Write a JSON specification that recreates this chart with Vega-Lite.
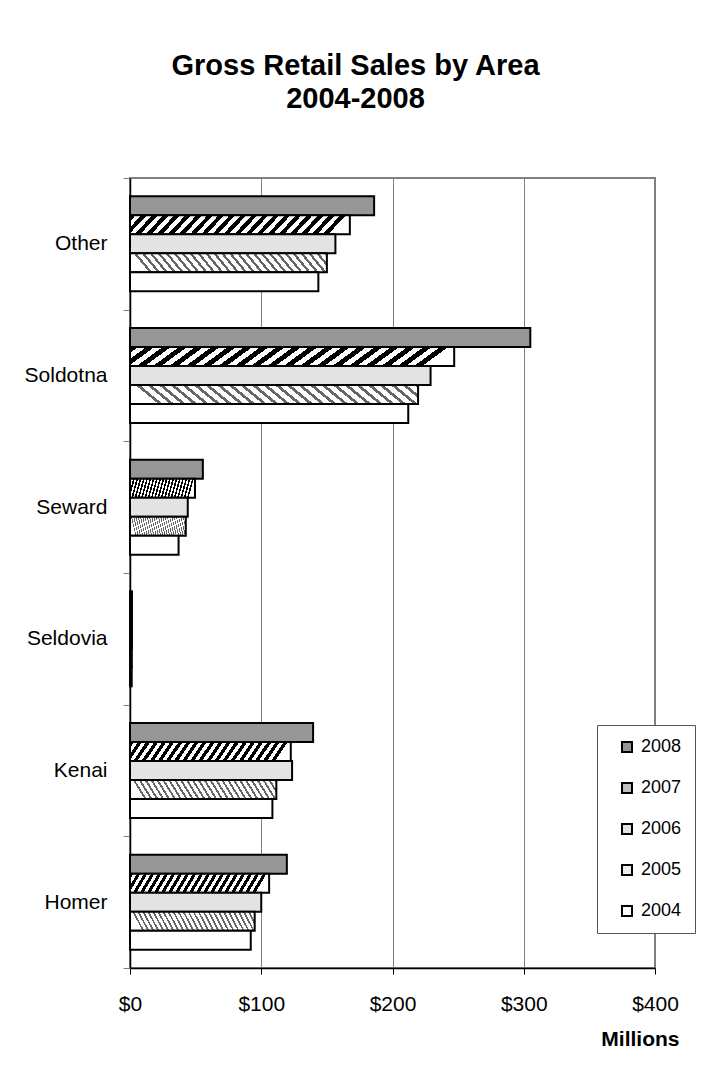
{
 "$schema": "https://vega.github.io/schema/vega-lite/v6.json",
 "autosize": {"type": "none"},
 "width": 525,
 "height": 790,
 "padding": {"left": 130, "top": 178, "right": 73, "bottom": 119},
 "background": "white",
 "config": {"font": "Liberation Sans", "view": {"stroke": "#808080", "strokeWidth": 2}},
 "title": {"text": ["Gross Retail Sales by Area", "2004-2008"], "fontSize": 29, "fontWeight": "bold", "anchor": "middle", "dx": -37, "offset": 53, "lineHeight": 33, "color": "black"},
 "data": {"values": [
  {"area": "Other", "year": "2008", "sales": 186},
  {"area": "Other", "year": "2007", "sales": 167.5},
  {"area": "Other", "year": "2006", "sales": 156.5},
  {"area": "Other", "year": "2005", "sales": 150},
  {"area": "Other", "year": "2004", "sales": 143.5},
  {"area": "Soldotna", "year": "2008", "sales": 305},
  {"area": "Soldotna", "year": "2007", "sales": 247},
  {"area": "Soldotna", "year": "2006", "sales": 229},
  {"area": "Soldotna", "year": "2005", "sales": 219.5},
  {"area": "Soldotna", "year": "2004", "sales": 212},
  {"area": "Seward", "year": "2008", "sales": 55.5},
  {"area": "Seward", "year": "2007", "sales": 49.5},
  {"area": "Seward", "year": "2006", "sales": 44},
  {"area": "Seward", "year": "2005", "sales": 42.5},
  {"area": "Seward", "year": "2004", "sales": 37},
  {"area": "Seldovia", "year": "2008", "sales": 1.5},
  {"area": "Seldovia", "year": "2007", "sales": 1.5},
  {"area": "Seldovia", "year": "2006", "sales": 1.5},
  {"area": "Seldovia", "year": "2005", "sales": 1.4},
  {"area": "Seldovia", "year": "2004", "sales": 1.3},
  {"area": "Kenai", "year": "2008", "sales": 139.5},
  {"area": "Kenai", "year": "2007", "sales": 122.5},
  {"area": "Kenai", "year": "2006", "sales": 123.5},
  {"area": "Kenai", "year": "2005", "sales": 111.5},
  {"area": "Kenai", "year": "2004", "sales": 108.5},
  {"area": "Homer", "year": "2008", "sales": 119.5},
  {"area": "Homer", "year": "2007", "sales": 106},
  {"area": "Homer", "year": "2006", "sales": 100},
  {"area": "Homer", "year": "2005", "sales": 95},
  {"area": "Homer", "year": "2004", "sales": 92}
 ]},
 "mark": {"type": "bar", "stroke": "black", "strokeWidth": 2},
 "encoding": {
  "y": {"field": "area", "type": "nominal", "sort": ["Other", "Soldotna", "Seward", "Seldovia", "Kenai", "Homer"],
   "scale": {"paddingInner": 0, "paddingOuter": 0},
   "axis": {"title": null, "domainColor": "black", "domainWidth": 1.5, "tickColor": "#808080", "tickSize": 7, "tickBand": "extent", "labelPadding": 16, "labelFontSize": 21, "labelColor": "black", "grid": false}},
  "yOffset": {"field": "year", "type": "nominal", "sort": ["2008", "2007", "2006", "2005", "2004"], "scale": {"paddingInner": 0, "paddingOuter": 0.965}},
  "x": {"field": "sales", "type": "quantitative", "scale": {"domain": [0, 400], "nice": false},
   "axis": {"values": [0, 100, 200, 300, 400], "format": "$,.0f", "labelFlush": false, "grid": true, "gridColor": "#808080", "gridWidth": 1, "gridOpacity": 1, "domainColor": "black", "domainWidth": 1.5, "tickColor": "black", "tickSize": 6, "labelFontSize": 21, "labelPadding": 19, "labelColor": "black",
    "title": "Millions", "titleFontSize": 21, "titleFontWeight": "bold", "titleColor": "black", "titleX": 549, "titleY": 71, "titleAlign": "right", "titleBaseline": "middle"}},
  "fill": {"field": "year", "type": "nominal",
   "scale": {"domain": ["2008", "2007", "2006", "2005", "2004"], "range": ["#969696", "#bfbfbf", "#e3e3e3", "#eeeeee", "#ffffff"]},
   "legend": {"title": null, "orient": "none", "legendX": 467, "legendY": 547, "fillColor": "white", "strokeColor": "#555555", "padding": 13, "rowPadding": 23, "symbolType": "square", "symbolSize": 100, "symbolStrokeColor": "black", "symbolStrokeWidth": 2, "symbolOffset": 8, "labelFontSize": 18, "labelOffset": 5, "labelColor": "black"},
   "condition": [
    {"test": "datum.year === '2007'", "value": {"gradient": "linear", "x1": 0, "y1": 0, "x2": 1, "y2": 0.08, "stops": [
     {"offset": 0, "color": "black"}, {"offset": 0.025, "color": "black"}, {"offset": 0.025, "color": "white"}, {"offset": 0.05, "color": "white"},
     {"offset": 0.05, "color": "black"}, {"offset": 0.075, "color": "black"}, {"offset": 0.075, "color": "white"}, {"offset": 0.1, "color": "white"},
     {"offset": 0.1, "color": "black"}, {"offset": 0.125, "color": "black"}, {"offset": 0.125, "color": "white"}, {"offset": 0.15, "color": "white"},
     {"offset": 0.15, "color": "black"}, {"offset": 0.175, "color": "black"}, {"offset": 0.175, "color": "white"}, {"offset": 0.2, "color": "white"},
     {"offset": 0.2, "color": "black"}, {"offset": 0.225, "color": "black"}, {"offset": 0.225, "color": "white"}, {"offset": 0.25, "color": "white"},
     {"offset": 0.25, "color": "black"}, {"offset": 0.275, "color": "black"}, {"offset": 0.275, "color": "white"}, {"offset": 0.3, "color": "white"},
     {"offset": 0.3, "color": "black"}, {"offset": 0.325, "color": "black"}, {"offset": 0.325, "color": "white"}, {"offset": 0.35, "color": "white"},
     {"offset": 0.35, "color": "black"}, {"offset": 0.375, "color": "black"}, {"offset": 0.375, "color": "white"}, {"offset": 0.4, "color": "white"},
     {"offset": 0.4, "color": "black"}, {"offset": 0.425, "color": "black"}, {"offset": 0.425, "color": "white"}, {"offset": 0.45, "color": "white"},
     {"offset": 0.45, "color": "black"}, {"offset": 0.475, "color": "black"}, {"offset": 0.475, "color": "white"}, {"offset": 0.5, "color": "white"},
     {"offset": 0.5, "color": "black"}, {"offset": 0.525, "color": "black"}, {"offset": 0.525, "color": "white"}, {"offset": 0.55, "color": "white"},
     {"offset": 0.55, "color": "black"}, {"offset": 0.575, "color": "black"}, {"offset": 0.575, "color": "white"}, {"offset": 0.6, "color": "white"},
     {"offset": 0.6, "color": "black"}, {"offset": 0.625, "color": "black"}, {"offset": 0.625, "color": "white"}, {"offset": 0.65, "color": "white"},
     {"offset": 0.65, "color": "black"}, {"offset": 0.675, "color": "black"}, {"offset": 0.675, "color": "white"}, {"offset": 0.7, "color": "white"},
     {"offset": 0.7, "color": "black"}, {"offset": 0.725, "color": "black"}, {"offset": 0.725, "color": "white"}, {"offset": 0.75, "color": "white"},
     {"offset": 0.75, "color": "black"}, {"offset": 0.775, "color": "black"}, {"offset": 0.775, "color": "white"}, {"offset": 0.8, "color": "white"},
     {"offset": 0.8, "color": "black"}, {"offset": 0.825, "color": "black"}, {"offset": 0.825, "color": "white"}, {"offset": 0.85, "color": "white"},
     {"offset": 0.85, "color": "black"}, {"offset": 0.875, "color": "black"}, {"offset": 0.875, "color": "white"}, {"offset": 0.9, "color": "white"},
     {"offset": 0.9, "color": "black"}, {"offset": 0.925, "color": "black"}, {"offset": 0.925, "color": "white"}, {"offset": 0.95, "color": "white"},
     {"offset": 0.95, "color": "black"}, {"offset": 0.975, "color": "black"}, {"offset": 0.975, "color": "white"}, {"offset": 1, "color": "white"}
    ]}},
    {"test": "datum.year === '2005'", "value": {"gradient": "linear", "x1": 0, "y1": 0.08, "x2": 1, "y2": 0, "stops": [
     {"offset": 0, "color": "white"}, {"offset": 0.025, "color": "white"}, {"offset": 0.025, "color": "#666666"}, {"offset": 0.04, "color": "#666666"},
     {"offset": 0.04, "color": "white"}, {"offset": 0.065, "color": "white"}, {"offset": 0.065, "color": "#666666"}, {"offset": 0.08, "color": "#666666"},
     {"offset": 0.08, "color": "white"}, {"offset": 0.105, "color": "white"}, {"offset": 0.105, "color": "#666666"}, {"offset": 0.12, "color": "#666666"},
     {"offset": 0.12, "color": "white"}, {"offset": 0.145, "color": "white"}, {"offset": 0.145, "color": "#666666"}, {"offset": 0.16, "color": "#666666"},
     {"offset": 0.16, "color": "white"}, {"offset": 0.185, "color": "white"}, {"offset": 0.185, "color": "#666666"}, {"offset": 0.2, "color": "#666666"},
     {"offset": 0.2, "color": "white"}, {"offset": 0.225, "color": "white"}, {"offset": 0.225, "color": "#666666"}, {"offset": 0.24, "color": "#666666"},
     {"offset": 0.24, "color": "white"}, {"offset": 0.265, "color": "white"}, {"offset": 0.265, "color": "#666666"}, {"offset": 0.28, "color": "#666666"},
     {"offset": 0.28, "color": "white"}, {"offset": 0.305, "color": "white"}, {"offset": 0.305, "color": "#666666"}, {"offset": 0.32, "color": "#666666"},
     {"offset": 0.32, "color": "white"}, {"offset": 0.345, "color": "white"}, {"offset": 0.345, "color": "#666666"}, {"offset": 0.36, "color": "#666666"},
     {"offset": 0.36, "color": "white"}, {"offset": 0.385, "color": "white"}, {"offset": 0.385, "color": "#666666"}, {"offset": 0.4, "color": "#666666"},
     {"offset": 0.4, "color": "white"}, {"offset": 0.425, "color": "white"}, {"offset": 0.425, "color": "#666666"}, {"offset": 0.44, "color": "#666666"},
     {"offset": 0.44, "color": "white"}, {"offset": 0.465, "color": "white"}, {"offset": 0.465, "color": "#666666"}, {"offset": 0.48, "color": "#666666"},
     {"offset": 0.48, "color": "white"}, {"offset": 0.505, "color": "white"}, {"offset": 0.505, "color": "#666666"}, {"offset": 0.52, "color": "#666666"},
     {"offset": 0.52, "color": "white"}, {"offset": 0.545, "color": "white"}, {"offset": 0.545, "color": "#666666"}, {"offset": 0.56, "color": "#666666"},
     {"offset": 0.56, "color": "white"}, {"offset": 0.585, "color": "white"}, {"offset": 0.585, "color": "#666666"}, {"offset": 0.6, "color": "#666666"},
     {"offset": 0.6, "color": "white"}, {"offset": 0.625, "color": "white"}, {"offset": 0.625, "color": "#666666"}, {"offset": 0.64, "color": "#666666"},
     {"offset": 0.64, "color": "white"}, {"offset": 0.665, "color": "white"}, {"offset": 0.665, "color": "#666666"}, {"offset": 0.68, "color": "#666666"},
     {"offset": 0.68, "color": "white"}, {"offset": 0.705, "color": "white"}, {"offset": 0.705, "color": "#666666"}, {"offset": 0.72, "color": "#666666"},
     {"offset": 0.72, "color": "white"}, {"offset": 0.745, "color": "white"}, {"offset": 0.745, "color": "#666666"}, {"offset": 0.76, "color": "#666666"},
     {"offset": 0.76, "color": "white"}, {"offset": 0.785, "color": "white"}, {"offset": 0.785, "color": "#666666"}, {"offset": 0.8, "color": "#666666"},
     {"offset": 0.8, "color": "white"}, {"offset": 0.825, "color": "white"}, {"offset": 0.825, "color": "#666666"}, {"offset": 0.84, "color": "#666666"},
     {"offset": 0.84, "color": "white"}, {"offset": 0.865, "color": "white"}, {"offset": 0.865, "color": "#666666"}, {"offset": 0.88, "color": "#666666"},
     {"offset": 0.88, "color": "white"}, {"offset": 0.905, "color": "white"}, {"offset": 0.905, "color": "#666666"}, {"offset": 0.92, "color": "#666666"},
     {"offset": 0.92, "color": "white"}, {"offset": 0.945, "color": "white"}, {"offset": 0.945, "color": "#666666"}, {"offset": 0.96, "color": "#666666"},
     {"offset": 0.96, "color": "white"}, {"offset": 0.985, "color": "white"}, {"offset": 0.985, "color": "#666666"}, {"offset": 1, "color": "#666666"}
    ]}}
   ]}
 }
}
